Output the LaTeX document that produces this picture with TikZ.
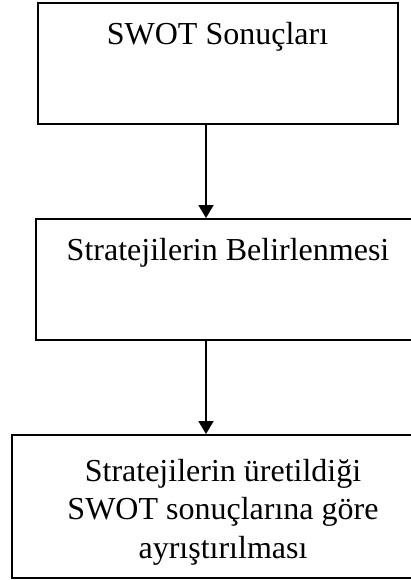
\documentclass[tikz,border=0pt]{standalone}
\usepackage{fontspec}
\setmainfont{Liberation Serif}
\usetikzlibrary{arrows.meta}
\begin{document}
\begin{tikzpicture}[x=1pt,y=-1pt,
  box/.style={draw=black,line width=2pt,rectangle,inner sep=0pt},
  boxtext/.style={font=\fontsize{32}{38.5}\selectfont,inner sep=0pt,align=center},
  flow/.style={line width=2pt,-{Triangle[length=13pt,width=15pt]}}]
\useasboundingbox (0,0) rectangle (411,580);
% boxes
\node[box,minimum width=360.5pt,minimum height=120.7pt] (b1) at (217.75,63.65) {};
\node[box,minimum width=384pt,minimum height=121pt] (b2) at (228,279.5) {};
\node[box,minimum width=422pt,minimum height=142.7pt] (b3) at (223,506.35) {};
% texts
\node[boxtext,anchor=base] (t1) at (217.5,45) {SWOT Sonuçları};
\node[boxtext,anchor=base] (t2) at (228,260) {Stratejilerin Belirlenmesi};
\node[boxtext,anchor=base] (t3) at (223,558) {Stratejilerin üretildiği\\SWOT sonuçlarına göre\\ayrıştırılması};
% connectors
\coordinate (ax) at (206,0);
\draw[flow] (ax |- b1.south) -- (ax |- b2.north);
\draw[flow] (ax |- b2.south) -- (ax |- b3.north);
\end{tikzpicture}
\end{document}
